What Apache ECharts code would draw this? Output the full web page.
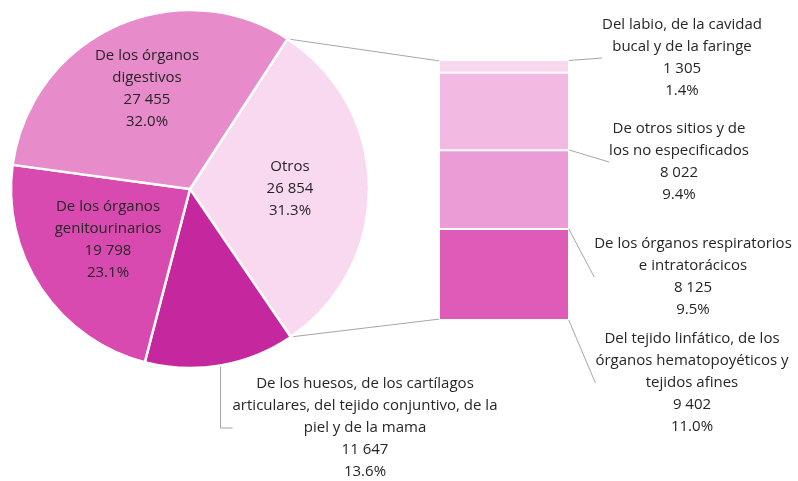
<!DOCTYPE html>
<html>
<head>
<meta charset="utf-8">
<script src="https://cdn.jsdelivr.net/npm/echarts@6/dist/echarts.min.js"></script>
<style>
html,body{margin:0;padding:0;background:#fff}
#main{width:798px;height:481px}
</style>
</head>
<body>
<div id="main"></div>
<script>
// pie, clockwise from "Otros"
var pieNames = ['Otros', 'De los huesos, de los cartílagos\narticulares, del tejido conjuntivo, de la\npiel y de la mama', 'De los órganos\ngenitourinarios', 'De los órganos\ndigestivos'];
var pieValues = [26854, 11647, 19798, 27455];
var piePct = ['31.3%', '13.6%', '23.1%', '32.0%'];
var pieColors = ['#F8D9F0', '#C5279E', '#D84AB0', '#E78BCB'];

// bar of "Otros", bottom to top
var barNames = ['Del tejido linfático, de los\nórganos hematopoyéticos y\ntejidos afines', 'De los órganos respiratorios\ne intratorácicos', 'De otros sitios y de\nlos no especificados', 'Del labio, de la cavidad\nbucal y de la faringe'];
var barValues = [9402, 8125, 8022, 1305];
var barPct = ['11.0%', '9.5%', '9.4%', '1.4%'];
var barColors = ['#DE5CB8', '#EB9BD5', '#F2BAE2', '#F7D8EF'];

var font = "'Open Sans', sans-serif";
var textColor = '#262626';
var lineColor = '#A6A6A6';

function fmt(v) {
  return String(v).replace(/\B(?=(\d{3})+(?!\d))/g, ' ');
}

var cx = 190, cy = 189, r = 179, startAngle = 57;
var piePos = [[290, 189], [365, 428], [108, 240], [147, 89]];
var barPos = [[692, 383], [693, 277], [679, 162], [682, 58]];

var total = 0;
barValues.forEach(function (v) { total += v; });

var pieData = pieValues.map(function (v, i) {
  var outside = i === 1;
  return {
    value: v,
    name: pieNames[i],
    itemStyle: { color: pieColors[i] },
    label: { position: outside ? 'outside' : 'inside' },
    labelLine: { show: outside }
  };
});

var series = [{
  type: 'pie',
  center: [cx, cy],
  radius: r,
  startAngle: startAngle,
  clockwise: true,
  silent: true,
  data: pieData,
  itemStyle: { borderColor: '#fff', borderWidth: 2.5 },
  label: {
    formatter: function (p) {
      return p.name + '\n' + fmt(p.value) + '\n' + piePct[p.dataIndex];
    },
    fontFamily: font, fontSize: 15, lineHeight: 22, color: textColor, align: 'center'
  },
  labelLine: { lineStyle: { color: lineColor, width: 1 } },
  labelLayout: function (p) {
    var pos = piePos[p.dataIndex];
    return { x: pos[0], y: pos[1], align: 'center', verticalAlign: 'middle' };
  }
}];

barValues.forEach(function (v, i) {
  series.push({
    type: 'bar',
    stack: 'otros',
    barWidth: '100%',
    silent: true,
    data: [v],
    itemStyle: { color: barColors[i], borderColor: '#fff', borderWidth: 1 },
    label: {
      show: true,
      formatter: barNames[i] + '\n' + fmt(v) + '\n' + barPct[i],
      fontFamily: font, fontSize: 15, lineHeight: 22, color: textColor, align: 'center'
    },
    labelLine: { show: true, lineStyle: { color: lineColor, width: 1 } },
    labelLayout: { x: barPos[i][0], y: barPos[i][1], align: 'center', verticalAlign: 'middle' }
  });
});

var chart = echarts.init(document.getElementById('main'));
chart.setOption({
  animation: false,
  grid: { left: 439, top: 60, width: 130, height: 260 },
  xAxis: { type: 'category', data: ['Otros'], show: false },
  yAxis: { type: 'value', min: 0, max: total, show: false },
  series: series
});

// connector lines from the "Otros" slice to the bar
var sumPie = 0;
pieValues.forEach(function (v) { sumPie += v; });
var a1 = (90 - startAngle) * Math.PI / 180;
var a2 = a1 + pieValues[0] / sumPie * 2 * Math.PI;
var pTop = [cx + r * Math.sin(a1), cy - r * Math.cos(a1)];
var pBot = [cx + r * Math.sin(a2), cy - r * Math.cos(a2)];
var barTop = chart.convertToPixel({ gridIndex: 0 }, ['Otros', total]);
var barBot = chart.convertToPixel({ gridIndex: 0 }, ['Otros', 0]);
var barLeft = 440;

chart.setOption({
  graphic: [
    { type: 'line', shape: { x1: pTop[0], y1: pTop[1], x2: barLeft, y2: barTop[1] + 1 }, style: { stroke: lineColor, lineWidth: 1 } },
    { type: 'line', shape: { x1: pBot[0], y1: pBot[1], x2: barLeft, y2: barBot[1] - 1 }, style: { stroke: lineColor, lineWidth: 1 } }
  ]
});
</script>
</body>
</html>
